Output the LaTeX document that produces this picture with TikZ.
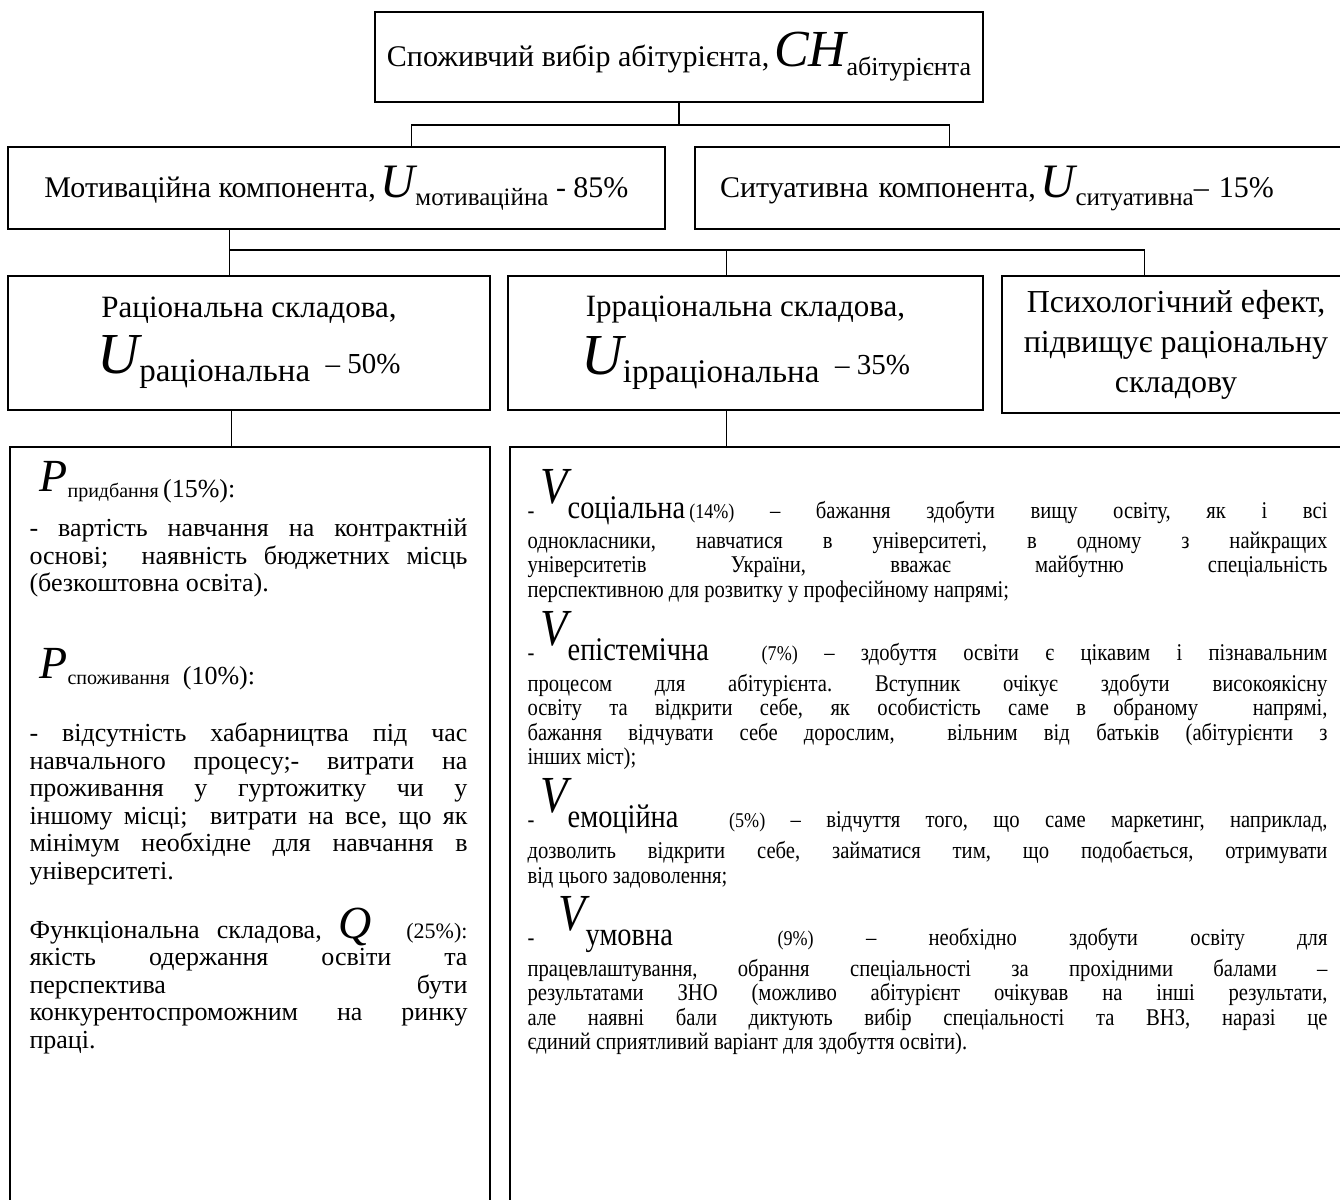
\documentclass[tikz,border=0pt]{standalone}
\usepackage{fontspec}
\setmainfont{Liberation Serif}
\newfontfamily\narrowfont[FakeStretch=0.86]{Liberation Serif}

\newcommand{\bigit}[2]{{\fontsize{#1}{#1}\selectfont\itshape #2}}
\newcommand{\sized}[2]{{\fontsize{#1}{#1}\selectfont #2}}
\newcommand{\Psym}[1]{\hspace*{10pt}\raisebox{6pt}{\bigit{46}{P}}\sized{20}{#1}}
\newcommand{\Vsym}[1]{\raisebox{15pt}[57pt][0pt]{\bigit{52}{V}}\sized{33}{#1}\rule[-12.5pt]{0pt}{0pt}}

\begin{document}
\begin{tikzpicture}[x=1pt, y=-1pt,
  box/.style={draw, line width=1.4pt, inner sep=0pt, align=center},
  link/.style={draw, line width=1.2pt},
  note/.style={anchor=north west, inner sep=0pt, align=justify}]
  \useasboundingbox (0,0) rectangle (1340,1199);

  \node[box, minimum width=608, minimum height=90, font=\fontsize{30}{36}\selectfont] (choice) at (679,57)
    {Споживчий вибір абітурієнта,\,\bigit{52}{CH}\raisebox{-9pt}{\sized{26}{абітурієнта}}};

  \node[box, minimum width=657, minimum height=82, font=\fontsize{30}{36}\selectfont] (motiv) at (336.5,188)
    {Мотиваційна компонента,\,\bigit{48}{U}\raisebox{-8pt}{\sized{25}{мотиваційна}} - 85\%};
  \node[box, minimum width=655, minimum height=82, inner xsep=25pt, text width=605, align=left,
    font=\fontsize{30}{36}\selectfont] (situat) at (1022.5,188)
    {Ситуативна компонента,\,\bigit{48}{U}\raisebox{-8pt}{\sized{25}{ситуативна}}– 15\%};

  \node[box, minimum width=482, minimum height=134, font=\fontsize{31}{44}\selectfont] (ration) at (249,343)
    {Раціональна складова,\\[12pt] \bigit{58}{U}\raisebox{-8pt}{\sized{33}{раціональна}}\ \ \sized{29}{– 50\%}};
  \node[box, minimum width=475, minimum height=134, font=\fontsize{31}{44}\selectfont] (irrat) at (745.5,343)
    {Ірраціональна складова,\\[12pt] \bigit{58}{U}\raisebox{-8pt}{\sized{33}{ірраціональна}}\ \ \sized{29}{– 35\%}};
  \node[box, minimum width=348, minimum height=137, font=\fontsize{32}{40}\selectfont] (psych) at (1176,344.5)
    {\rule{0pt}{4pt}Психологічний ефект,\\ підвищує раціональну\\ складову};

  \node[box, minimum width=480, minimum height=793] (leftbox) at (250,843.5) {};
  \node[box, minimum width=840, minimum height=793] (rightbox) at (930,843.5) {};

  % tree lines
  \coordinate (hubA) at (679,125);
  \coordinate (hubB) at (230,250);
  \draw[link] (choice.south) -- (hubA);
  \draw[link] ([xshift=404]motiv.north west) |- (hubA) -| ([xshift=255]situat.north west);
  \draw[link] ([xshift=222]motiv.south west) -- ([xshift=222]ration.north west);
  \draw[link] (hubB) -| ([xshift=219]irrat.north west);
  \draw[link] (hubB) -| ([xshift=143]psych.north west);
  \draw[link] ([xshift=224]ration.south west) -- ([xshift=222]leftbox.north west);
  \draw[link] ([xshift=219]irrat.south west) -- ([xshift=217]rightbox.north west);

  % rational part
  \node[note, text width=438] (leftnote) at ([shift={(20,14.5)}]leftbox.north west)
    {\fontsize{26}{27.5}\selectfont\frenchspacing\hyphenpenalty=10000\exhyphenpenalty=10000\tolerance=10000
     \Psym{придбання}\,(15\%):\par\vspace{12pt}
     - вартість навчання на контрактній\linebreak основі;\ \ наявність бюджетних місць\linebreak
     (безкоштовна освіта).\par\vspace{50pt}
     \Psym{споживання}\ \ (10\%):\par\vspace{30pt}
     - відсутність хабарництва під час\linebreak навчального процесу;- витрати на\linebreak
     проживання у гуртожитку чи у\linebreak іншому місці;\ \ витрати на все, що як\linebreak
     мінімум необхідне для навчання в\linebreak університеті.\par\vspace{22pt}
     Функціональна складова, \bigit{46}{Q}\ \ \sized{22}{(25\%):}\linebreak якість одержання освіти та\linebreak
     перспектива бути\linebreak конкурентоспроможним на ринку\linebreak праці.\par};

  % irrational part
  \node[note, text width=800] (rightnote) at ([shift={(18,15)}]rightbox.north west)
    {\narrowfont\fontsize{24}{24.5}\selectfont\frenchspacing\hyphenpenalty=10000\exhyphenpenalty=10000\tolerance=10000
     -\hspace{6pt}\Vsym{соціальна}\,\sized{21}{(14\%)} – бажання здобути вищу освіту, як і всі\linebreak
     однокласники, навчатися в університеті, в одному з найкращих\linebreak
     університетів України, вважає майбутню спеціальність\linebreak
     перспективною для розвитку у професійному напрямі;\par
     -\hspace{6pt}\Vsym{епістемічна}\ \ \sized{21}{(7\%)} – здобуття освіти є цікавим і пізнавальним\linebreak
     процесом для абітурієнта. Вступник очікує здобути високоякісну\linebreak
     освіту та відкрити себе, як особистість саме в обраному\ \ напрямі,\linebreak
     бажання відчувати себе дорослим,\ \ вільним від батьків (абітурієнти з\linebreak
     інших міст);\par
     -\hspace{6pt}\Vsym{емоційна}\ \ \sized{21}{(5\%)} – відчуття того, що саме маркетинг, наприклад,\linebreak
     дозволить відкрити себе, займатися тим, що подобається, отримувати\linebreak
     від цього задоволення;\par
     -\hspace{24pt}\Vsym{умовна}\ \ \sized{21}{(9\%)} – необхідно здобути освіту для\linebreak
     працевлаштування, обрання спеціальності за прохідними балами –\linebreak
     результатами ЗНО (можливо абітурієнт очікував на інші результати,\linebreak
     але наявні бали диктують вибір спеціальності та ВНЗ, наразі це\linebreak
     єдиний сприятливий варіант для здобуття освіти).\par};
\end{tikzpicture}
\end{document}
